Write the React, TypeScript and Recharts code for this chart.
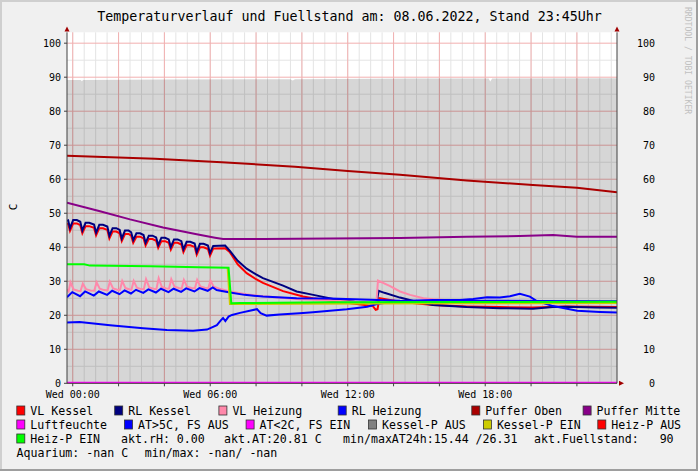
import React from "react";
import { ComposedChart, Line, Area, XAxis, YAxis, CartesianGrid } from "recharts";

type Pt = [number, number];

const title = "Temperaturverlauf und Fuellstand am: 08.06.2022, Stand 23:45Uhr";
const yUnit = "C";
const watermark = "RRDTOOL / TOBI OETIKER";

const xTicks = [0, 2, 4, 6, 8, 10, 12, 14, 16, 18, 20, 22];
const xLabelHours = [0, 6, 12, 18];
const xLabels = ["Wed 00:00", "Wed 06:00", "Wed 12:00", "Wed 18:00"];
const yTicks = [0, 10, 20, 30, 40, 50, 60, 70, 80, 90, 100];

// hours since Wed 00:00, value
const fuellstand: Pt[] = [
  [-0.25, 89.2], [0.35, 89.2], [0.4, 88.8], [0.45, 89.2], [4.0, 89.3], [9.5, 89.4], [9.6, 89.0],
  [9.7, 89.4], [15.0, 89.6], [18.15, 89.6], [18.22, 88.7], [18.3, 89.6], [23.75, 89.7],
];

const vlKessel: Pt[] = [
  [-0.25, 46.8], [-0.2, 46.9], [-0.12, 44.8], [0.02, 47.0], [0.18, 47.0], [0.33, 46.5], [0.42, 44.1],
  [0.56, 46.2], [0.72, 46.2], [0.93, 45.7], [1.02, 43.5], [1.16, 45.6], [1.32, 45.6], [1.51, 45.1],
  [1.6, 42.6], [1.74, 44.6], [1.9, 44.6], [2.05, 44.1], [2.14, 41.8], [2.28, 43.9], [2.44, 43.9],
  [2.55, 43.4], [2.64, 41.3], [2.78, 43.1], [2.94, 43.1], [3.09, 42.6], [3.18, 40.5], [3.32, 42.4],
  [3.48, 42.4], [3.64, 41.9], [3.73, 39.8], [3.87, 41.8], [4.03, 41.8], [4.19, 41.3], [4.28, 39.3],
  [4.42, 41.3], [4.58, 41.3], [4.74, 40.8], [4.83, 38.6], [4.97, 40.6], [5.13, 40.6], [5.32, 40.1],
  [5.41, 37.8], [5.55, 40.0], [5.71, 40.0], [5.9, 39.5], [5.99, 37.5], [6.13, 39.6], [6.65, 39.7],
  [6.86, 38.5], [7.2, 35.0], [7.59, 32.4], [8.0, 30.6], [8.3, 29.5], [9.18, 27.1], [10.05, 25.5],
  [10.48, 25.0], [11.96, 23.7], [13.1, 22.7], [13.22, 21.6], [13.3, 21.8], [13.38, 25.0],
  [14.28, 24.0], [15.72, 23.0], [17.2, 22.6], [18.64, 22.4], [20.08, 22.3], [21.5, 22.6], [23.75, 22.4],
];

const rlKessel: Pt[] = [
  [-0.25, 47.8], [-0.2, 47.9], [-0.12, 45.6], [0.02, 48.0], [0.18, 48.0], [0.33, 47.5], [0.42, 44.9],
  [0.56, 47.2], [0.72, 47.2], [0.93, 46.7], [1.02, 44.3], [1.16, 46.6], [1.32, 46.6], [1.51, 46.1],
  [1.6, 43.4], [1.74, 45.6], [1.9, 45.6], [2.05, 45.1], [2.14, 42.6], [2.28, 44.9], [2.44, 44.9],
  [2.55, 44.4], [2.64, 42.1], [2.78, 44.1], [2.94, 44.1], [3.09, 43.6], [3.18, 41.3], [3.32, 43.4],
  [3.48, 43.4], [3.64, 42.9], [3.73, 40.6], [3.87, 42.8], [4.03, 42.8], [4.19, 42.3], [4.28, 40.1],
  [4.42, 42.3], [4.58, 42.3], [4.74, 41.8], [4.83, 39.4], [4.97, 41.6], [5.13, 41.6], [5.32, 41.1],
  [5.41, 38.6], [5.55, 41.0], [5.71, 41.0], [5.9, 40.5], [5.99, 38.3], [6.13, 40.4], [6.65, 40.5],
  [6.86, 38.9], [7.2, 36.0], [7.59, 33.7], [8.0, 32.0], [8.3, 30.9], [9.18, 28.7], [9.77, 27.0],
  [10.5, 26.0], [11.36, 24.8], [12.3, 24.0], [13.25, 23.4], [13.35, 27.2], [13.6, 26.6],
  [14.28, 25.2], [15.0, 24.0], [15.72, 23.0], [17.19, 22.4], [18.64, 22.1], [20.08, 21.9],
  [20.96, 22.4], [21.57, 22.5], [22.8, 22.3], [23.75, 22.2],
];

const vlHeizung: Pt[] = [
  [-0.25, 27.6], [-0.18, 27.0], [-0.1, 29.7], [0.04, 27.6], [0.23, 27.2],
  [0.34, 27.1], [0.44, 29.3], [0.58, 27.7], [0.77, 27.3],
  [0.94, 27.2], [1.04, 29.7], [1.18, 27.8], [1.37, 27.4],
  [1.52, 27.3], [1.62, 29.9], [1.76, 27.9], [1.95, 27.5],
  [2.06, 27.4], [2.16, 30.1], [2.3, 28.0], [2.49, 27.6],
  [2.56, 27.5], [2.66, 30.1], [2.8, 28.1], [2.99, 27.7],
  [3.1, 27.6], [3.2, 30.6], [3.34, 28.2], [3.53, 27.8],
  [3.65, 27.7], [3.75, 30.9], [3.89, 28.3], [4.08, 27.9],
  [4.2, 27.8], [4.3, 30.6], [4.44, 28.4], [4.63, 28.0],
  [4.75, 27.8], [4.85, 30.4], [4.99, 28.4], [5.18, 28.0],
  [5.33, 27.9], [5.43, 30.4], [5.57, 28.5], [5.76, 28.1],
  [5.91, 27.9], [6.01, 30.2], [6.15, 28.4],
  [6.4, 27.8], [6.86, 27.0], [7.56, 26.2], [8.3, 25.6], [9.92, 24.7], [11.67, 24.2], [13.25, 23.6],
  [13.32, 30.2], [13.85, 28.6], [14.28, 27.0], [14.72, 26.0], [15.3, 25.0], [15.72, 24.7],
  [16.9, 24.2], [19.0, 24.0], [21.0, 23.8], [23.75, 23.6],
];

const rlHeizung: Pt[] = [
  [-0.25, 25.3], [-0.02, 26.8], [0.32, 25.6], [0.54, 27.0], [0.92, 25.8], [1.14, 27.0], [1.5, 26.0],
  [1.72, 27.2], [2.04, 26.2], [2.26, 27.3], [2.54, 26.4], [2.76, 27.5], [3.08, 26.6], [3.3, 27.6],
  [3.63, 26.7], [3.85, 27.8], [4.18, 26.8], [4.4, 27.8], [4.73, 26.9], [4.95, 27.9], [5.31, 27.0],
  [5.53, 28.0], [5.89, 27.2], [6.11, 28.2], [6.28, 27.4], [6.86, 26.7], [7.5, 26.0], [8.3, 25.5],
  [9.77, 25.0], [11.23, 24.9], [12.97, 24.6], [14.28, 24.3], [16.0, 24.2], [18.0, 24.3],
  [20.5, 24.2], [23.75, 24.1],
];

const pufferOben: Pt[] = [
  [-0.25, 66.9], [3.59, 66.0], [6.5, 65.0], [9.7, 63.7], [12.0, 62.4], [14.28, 61.3], [17.19, 59.6],
  [20.08, 58.3], [22.0, 57.5], [23.75, 56.2],
];

const pufferMitte: Pt[] = [
  [-0.25, 53.1], [1.19, 50.6], [2.5, 48.2], [3.94, 45.8], [5.41, 43.8], [6.21, 42.8], [6.56, 42.4],
  [8.3, 42.4], [11.23, 42.6], [14.28, 42.7], [17.2, 43.1], [19.5, 43.3], [20.96, 43.6], [22.0, 43.1],
  [23.75, 43.1],
];

const luftfeuchte: Pt[] = [[-0.25, 0], [23.75, 0]];

const aussenTemp: Pt[] = [
  [-0.25, 17.9], [0.3, 18.0], [1.63, 17.1], [3.07, 16.2], [4.11, 15.7], [5.25, 15.45], [5.86, 15.8],
  [6.29, 17.1], [6.46, 18.5], [6.56, 19.2], [6.66, 18.3], [6.8, 19.6], [6.95, 20.1], [7.3, 20.7],
  [8.04, 21.8], [8.2, 20.6], [8.46, 19.9], [9.03, 20.2], [9.9, 20.6], [10.48, 20.9], [11.96, 21.8],
  [12.85, 22.5], [13.32, 23.4], [14.28, 24.2], [15.72, 24.5], [16.9, 24.5], [17.47, 24.8],
  [18.08, 25.3], [18.64, 25.2], [19.08, 25.6], [19.51, 26.3], [19.95, 25.5], [20.25, 24.2],
  [20.96, 22.7], [22.01, 21.3], [23.01, 21.0], [23.75, 20.8],
];

const kesselPEin: Pt[] = [[6.76, 33.9], [6.86, 23.3], [10.0, 23.4], [17.0, 23.5], [23.75, 23.6]];

const heizPEin: Pt[] = [
  [-0.25, 35.0], [0.5, 35.0], [0.75, 34.6], [3.4, 34.4], [5.5, 34.1], [6.8, 34.0], [6.92, 23.5],
  [7.3, 23.6], [11.2, 23.8], [17.0, 23.9], [23.75, 24.0],
];

const legendRow1 = ["VL Kessel", "RL Kessel", "VL Heizung", "RL Heizung", "Puffer Oben", "Puffer Mitte"];
const legendRow2 = ["Luftfeuchte", "AT>5C, FS AUS", "AT<2C, FS EIN", "Kessel-P AUS", "Kessel-P EIN", "Heiz-P AUS"];
const legendRow3 = ["Heiz-P EIN"];
const statusRow3 = ["akt.rH: 0.00", "akt.AT:20.81 C", "min/maxAT24h:15.44 /26.31", "akt.Fuellstand:   90"];
const statusRow4 = ["Aquarium: -nan C", "min/max: -nan/ -nan"];

const rows = (pts: Pt[]) => pts.map(([t, v]) => ({ t, v }));
const mono = "'DejaVu Sans Mono', monospace";

const yMinor = [5, 15, 25, 35, 45, 55, 65, 75, 85, 95];
const xMinor = Array.from({ length: 48 }, (_, i) => i * 0.5);

const lines = [
  { data: vlKessel, color: "#ff0000" },
  { data: rlKessel, color: "#000080" },
  { data: vlHeizung, color: "#ff88aa" },
  { data: rlHeizung, color: "#0000ff" },
  { data: pufferOben, color: "#aa0000" },
  { data: pufferMitte, color: "#880088" },
  { data: luftfeuchte, color: "#ff00ff", w: 3 },
  { data: aussenTemp, color: "#0000ff" },
  { data: kesselPEin, color: "#cccc00" },
  { data: heizPEin, color: "#00ff00" },
];

const row1Colors = ["#ff0000", "#000080", "#ff88aa", "#0000ff", "#aa0000", "#880088"];
const row2Colors = ["#ff00ff", "#0000ff", "#ff00ff", "#808080", "#cccc00", "#ff0000"];
const row1X = [30.3, 128.2, 232.4, 351.7, 485.3, 596.6];
const row2X = [30.3, 138, 259.6, 382, 496.9, 611.3];
const row3X = [121, 224, 343, 534];
const row4X = [16.5, 144.7];

function RightTick(p: any) {
  return (
    <text x={655} y={p.y} dy={3.5} textAnchor="end" fontSize={10} fontFamily={mono} fill="#000">
      {p.payload.value}
    </text>
  );
}

function LegendItem({ x, y, color, label }: { x: number; y: number; color: string; label: string }) {
  return (
    <g>
      <rect x={x - 13.5} y={y - 9} width={8} height={9} fill={color} stroke="#333" strokeWidth={0.8} />
      <text x={x} y={y} fontSize={11.6} fontFamily={mono} fill="#000" style={{ whiteSpace: "pre" }}>{label}</text>
    </g>
  );
}

export default function App() {
  return (
    <div style={{ position: "absolute", left: 0, top: 0, width: 698, height: 471, background: "#f0f0f0" }}>
      <ComposedChart
        width={698}
        height={471}
        data={fuellstand.map(([t, f]) => ({ t, f }))}
        margin={{ top: 32.3, right: 0, bottom: 57.7, left: 0 }}
        style={{ fontFamily: mono }}
      >
        <CartesianGrid fill="#ffffff" stroke="#e4e4e4" horizontalValues={yMinor} verticalValues={xMinor} />
        <CartesianGrid stroke="#f2b0b0" horizontalValues={yTicks} verticalValues={xTicks} />
        <XAxis
          type="number"
          dataKey="t"
          domain={[-0.25, 23.75]}
          allowDataOverflow
          ticks={xTicks}
          interval={0}
          tickFormatter={(h: number) => {
            const i = xLabelHours.indexOf(h);
            return i >= 0 ? xLabels[i] : "";
          }}
          tick={{ fontSize: 10, fill: "#000", fontFamily: mono }}
          tickSize={3}
          tickMargin={5}
          axisLine={{ stroke: "#404040" }}
          tickLine={{ stroke: "#404040" }}
          height={30}
        />
        <YAxis
          domain={[0, 103.2]}
          allowDataOverflow
          ticks={yTicks}
          interval={0}
          width={67}
          tickSize={3}
          tickMargin={3}
          tick={{ fontSize: 10, fill: "#000", fontFamily: mono }}
          axisLine={{ stroke: "#404040" }}
          tickLine={{ stroke: "#404040" }}
        />
        <YAxis
          yAxisId="right"
          orientation="right"
          domain={[0, 103.2]}
          allowDataOverflow
          ticks={yTicks}
          interval={0}
          width={81}
          tickLine={false}
          axisLine={{ stroke: "#404040" }}
          tick={RightTick}
        />
        <Area type="linear" dataKey="f" stroke="none" fill="#000" fillOpacity={0.16} baseValue={0} isAnimationActive={false} />
        {lines.map((s, i) => (
          <Line
            key={i}
            data={rows(s.data)}
            dataKey="v"
            type="linear"
            stroke={s.color}
            strokeWidth={s.w ?? 2}
            dot={false}
            activeDot={false}
            isAnimationActive={false}
          />
        ))}
      </ComposedChart>
      <svg width={698} height={471} style={{ position: "absolute", left: 0, top: 0, pointerEvents: "none" }}>
        <rect x={0} y={0} width={698} height={2} fill="#cfcfcf" />
        <rect x={0} y={0} width={2} height={471} fill="#cfcfcf" />
        <rect x={0} y={469} width={698} height={2} fill="#9e9e9e" />
        <rect x={696} y={0} width={2} height={471} fill="#9e9e9e" />
        <text x={349.5} y={21} textAnchor="middle" fontSize={13.3} fontFamily={mono} fill="#000">{title}</text>
        <text transform="translate(17,207) rotate(-90)" textAnchor="middle" fontSize={11} fontFamily={mono} fill="#000">{yUnit}</text>
        <text transform="translate(685,7) rotate(90)" fontSize={8.1} fontFamily={mono} fill="#c0c0c0">{watermark}</text>
        <polygon points="67,26.5 64.5,31.5 69.5,31.5" fill="#a00000" />
        <polygon points="617,26.5 614.5,31.5 619.5,31.5" fill="#a00000" />
        <polygon points="624,383.3 619,380.8 619,385.8" fill="#a00000" />
        {legendRow1.map((l, i) => <LegendItem key={l} x={row1X[i]} y={415} color={row1Colors[i]} label={l} />)}
        {legendRow2.map((l, i) => <LegendItem key={l} x={row2X[i]} y={429} color={row2Colors[i]} label={l} />)}
        {legendRow3.map((l) => <LegendItem key={l} x={30.3} y={443} color="#00ff00" label={l} />)}
        {statusRow3.map((s, i) => (
          <text key={s} x={row3X[i]} y={443} fontSize={11.6} fontFamily={mono} fill="#000" style={{ whiteSpace: "pre" }}>{s}</text>
        ))}
        {statusRow4.map((s, i) => (
          <text key={s} x={row4X[i]} y={457} fontSize={11.6} fontFamily={mono} fill="#000" style={{ whiteSpace: "pre" }}>{s}</text>
        ))}
      </svg>
    </div>
  );
}
